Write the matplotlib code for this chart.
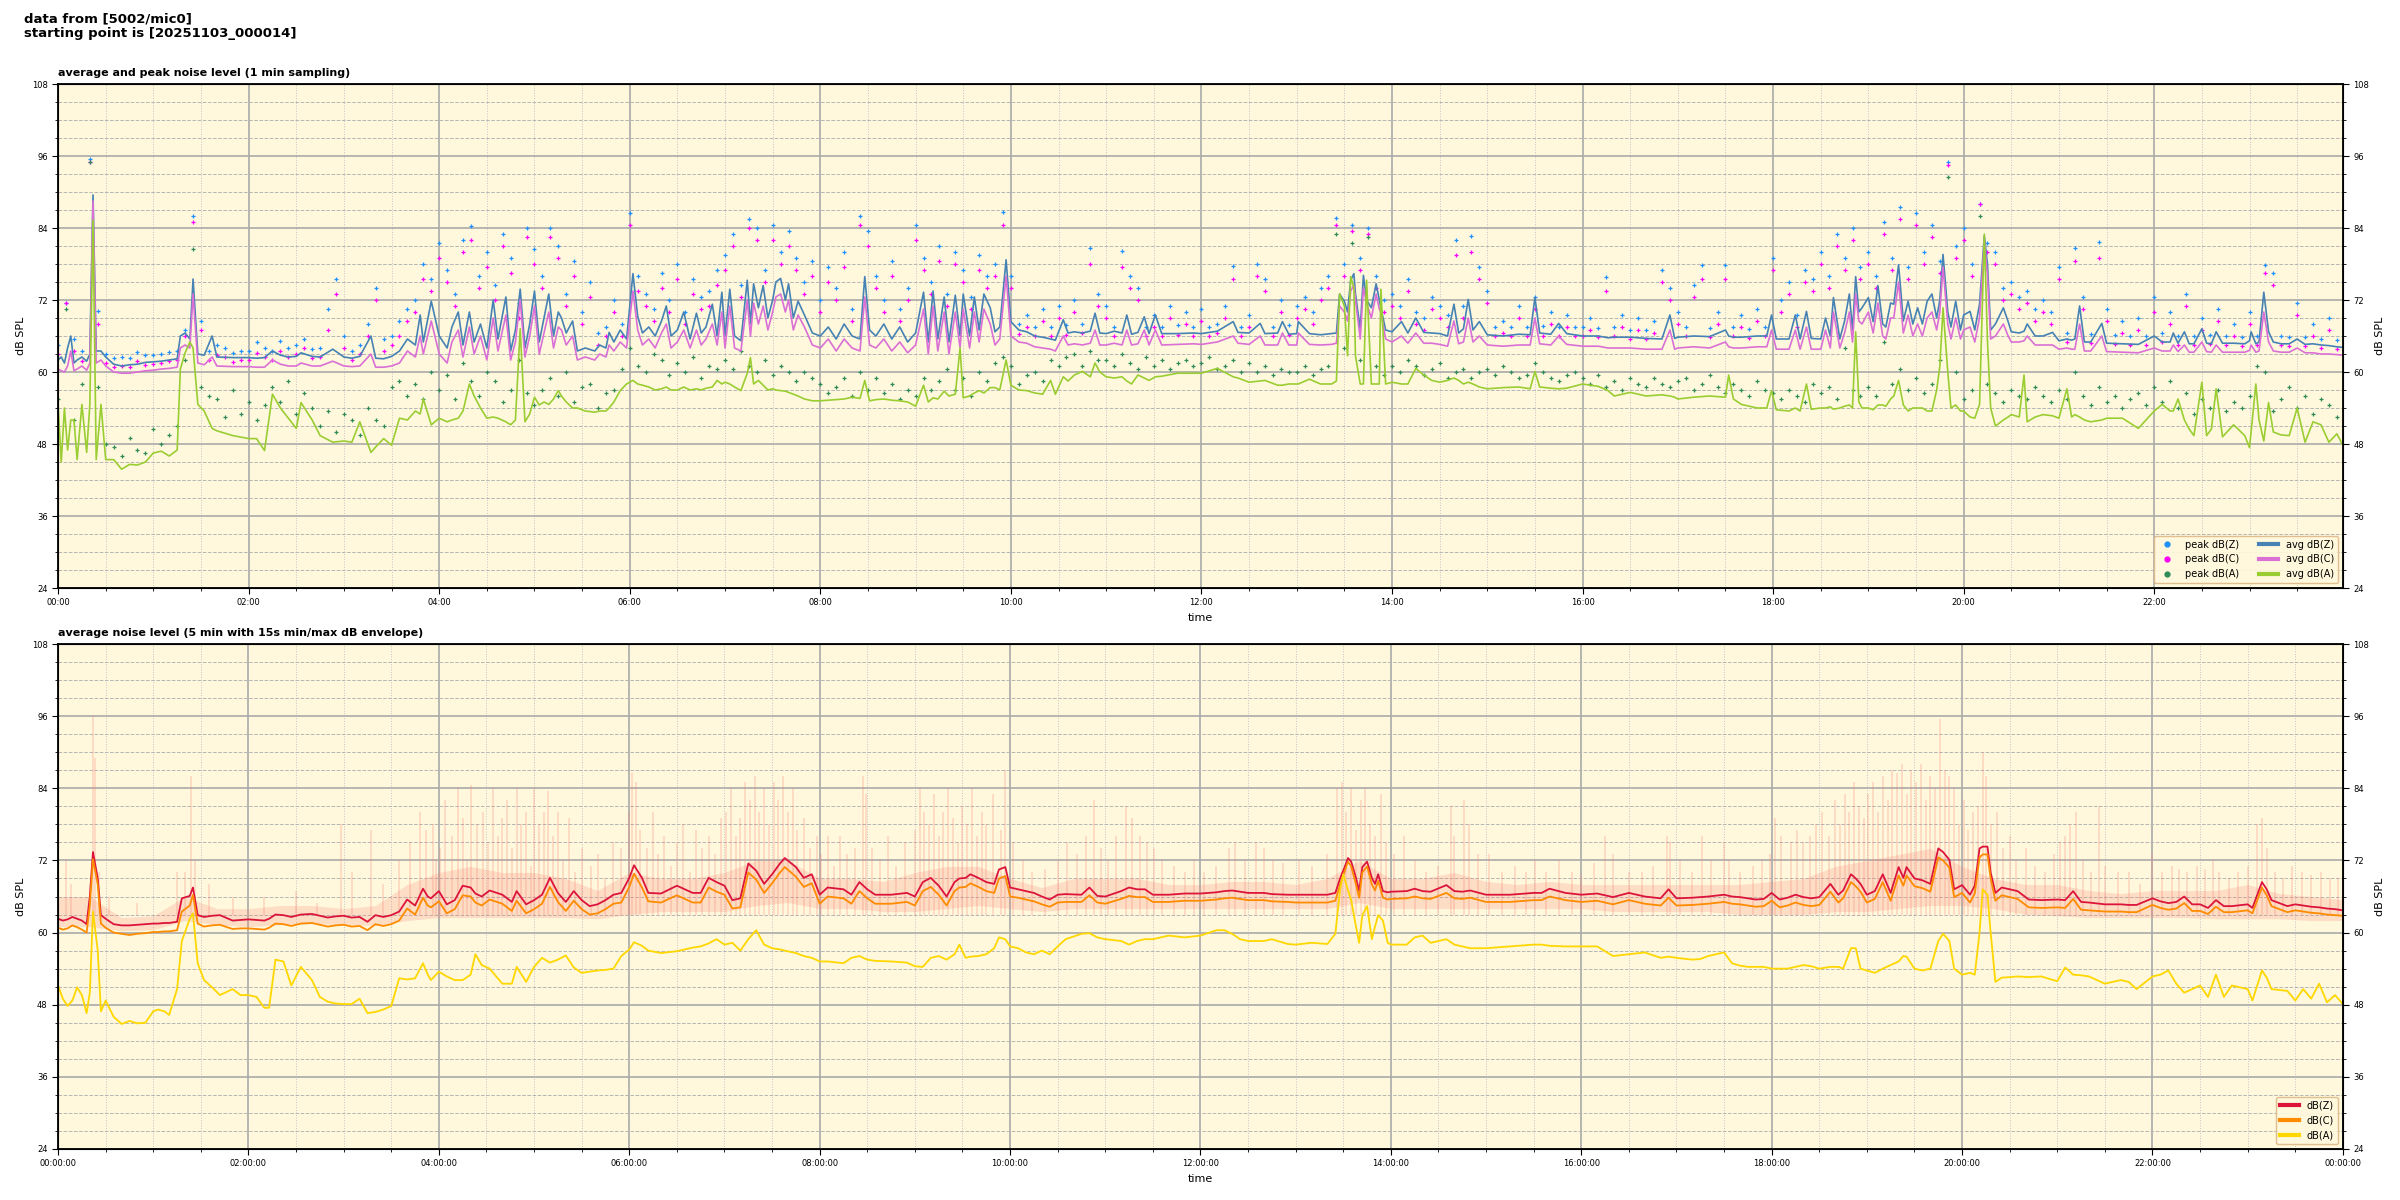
import numpy as np
import matplotlib
matplotlib.use("Agg")
import matplotlib.pyplot as plt
from matplotlib.ticker import MultipleLocator, FuncFormatter
from matplotlib.lines import Line2D

# ---------------- top panel: 1 min averages
# times are minutes after 00:00, one line per hour
avg_t = [
    0, 2, 4, 6, 8, 10, 12, 15, 18, 20, 22, 24, 27, 30, 35, 40, 45, 50, 55,
    60, 65, 70, 75, 77, 80, 83, 85, 88, 92, 97, 100, 110,
    120, 125, 130, 135, 140, 145, 150, 153, 160, 165, 173,
    180, 185, 190, 197, 200, 205, 210, 215, 220, 225, 228, 230, 235,
    240, 245, 248, 252, 255, 259, 262, 266, 270, 274, 277, 282, 285, 288, 291, 294, 297,
    300, 303, 306, 309, 312, 315, 317, 320, 324, 327, 332, 338, 341, 345, 347, 350, 354, 358,
    362, 365, 368, 372, 376, 380, 383, 386, 390, 394, 398, 402, 405, 408, 412, 415, 418,
    420, 423, 426, 430, 434, 436, 438, 441, 444, 447, 450, 452, 455, 458, 460, 463, 466, 470, 475,
    480, 485, 490, 495, 500, 505, 508, 511, 515, 520, 525, 530, 535,
    540, 545, 548, 551, 554, 558, 561, 565, 568, 570, 574, 577, 580, 583, 587, 590, 593, 597,
    600, 605, 610, 615, 620, 625, 628, 633, 636, 640, 645, 650, 653, 656,
    660, 665, 670, 673, 676, 680, 684, 687, 691, 695, 705, 715,
    720, 730, 740, 743, 750, 757, 760, 768, 771, 775,
    780, 781, 788, 795, 802, 805, 807, 810, 812, 814, 816, 817, 820, 822, 824, 827, 830, 832, 833, 836,
    840, 846, 850, 855, 860, 865, 870, 875, 879, 882, 885, 888, 891, 895,
    900, 910, 920, 927, 930, 933, 940, 945, 950,
    960, 970, 976, 980, 990, 1000, 1010, 1015, 1018,
    1020, 1030, 1040, 1050, 1052, 1055, 1060, 1070, 1076, 1079,
    1082, 1090, 1094, 1097, 1101, 1104, 1110, 1113, 1116, 1118, 1122, 1125, 1128, 1130, 1132, 1134, 1136,
    1140, 1143, 1146, 1149, 1151, 1154, 1156, 1159, 1162, 1165, 1168, 1171, 1174, 1177, 1180, 1183, 1185, 1187, 1190, 1192, 1195, 1198,
    1200, 1204, 1207, 1210, 1213, 1215, 1217, 1220, 1225, 1228, 1230, 1235, 1238, 1240, 1245, 1250, 1256,
    1260, 1265, 1268, 1270, 1273, 1276, 1280, 1287, 1290, 1300, 1310,
    1320, 1325, 1330, 1332, 1335, 1339, 1342, 1345, 1350, 1353, 1356, 1359, 1363, 1370, 1377,
    1380, 1381, 1384, 1386, 1389, 1392, 1395, 1400, 1405, 1410, 1415, 1420, 1425, 1430, 1435, 1439,
]
avg_z = [
    62.0, 62.5, 61.5, 64.0, 66.0, 61.5, 62.0, 62.5, 61.8, 63.0, 89.5, 63.5, 63.5, 62.5, 61.3, 61.0, 61.2, 61.3, 61.6,
    61.7, 61.8, 62.0, 62.2, 66.0, 66.5, 65.5, 75.5, 63.0, 62.8, 66.0, 62.5, 62.4,
    62.4, 62.3, 62.4, 63.5, 62.8, 62.5, 62.6, 63.2, 62.6, 62.5, 63.8,
    62.5, 62.3, 62.6, 66.0, 62.3, 62.2, 62.6, 63.5, 65.5, 64.5, 69.5, 65.0, 71.8,
    66.0, 64.0, 67.5, 70.0, 64.5, 70.0, 65.0, 68.0, 64.0, 72.0, 65.5, 72.5, 63.5, 67.0, 73.8, 64.0, 68.0,
    73.5, 65.0, 69.0, 73.0, 66.0, 70.0, 69.0, 66.5, 68.5, 63.5, 64.0, 63.5, 64.5, 64.0, 66.6, 65.0, 67.0, 65.5,
    76.4, 69.3, 66.5, 67.5, 66.0, 68.5, 71.0, 66.0, 67.0, 70.0, 65.5, 69.8, 66.5, 67.5, 71.3, 66.0, 73.3,
    66.0, 73.8, 66.0, 65.2, 75.3, 68.0, 74.7, 70.7, 74.4, 69.0, 72.0, 75.0, 75.6, 72.0, 74.7, 69.0, 71.8, 69.5, 66.5,
    66.0, 67.5, 65.5, 68.0, 66.0, 65.5, 75.9, 67.0, 66.0, 68.0, 65.5, 67.5, 65.0,
    66.5, 73.3, 65.0, 73.5, 65.5, 72.5, 65.0, 72.8, 66.0, 73.0, 66.0, 72.5, 67.0, 73.0, 70.7, 66.7, 67.5, 78.7,
    68.4, 67.0, 66.7, 66.0, 65.8, 65.5, 65.3, 68.7, 66.5, 66.7, 66.5, 66.8, 69.8, 66.5,
    66.4, 66.8, 66.5, 69.5, 66.3, 66.6, 69.2, 66.4, 69.5, 66.4, 66.4, 66.5,
    66.4, 66.8, 68.4, 66.6, 66.5, 68.1, 66.4, 66.5, 68.4, 66.3,
    66.4, 68.4, 66.4, 66.2, 66.4, 66.5, 73.0, 71.8, 70.0, 75.3, 76.4, 73.0, 67.2, 76.1, 72.0, 70.7, 74.7, 72.0, 70.7, 67.0,
    66.7, 68.4, 66.5, 69.0, 66.6, 66.5, 66.4, 66.0, 71.3, 66.5, 67.2, 72.1, 67.0, 68.4,
    66.2, 66.0, 66.3, 66.2, 72.4, 66.5, 66.3, 68.1, 66.4,
    66.0, 66.0, 65.7, 65.8, 65.8, 65.6, 65.5, 69.5, 65.6,
    65.8, 66.0, 65.9, 67.0, 66.0, 65.8, 65.8, 66.0, 66.0, 69.5,
    65.5, 65.5, 69.5, 65.5, 70.1, 65.6, 65.5, 69.0, 66.0, 72.4, 65.5, 68.5, 73.0, 67.0, 75.9, 70.0, 70.7,
    72.4, 68.4, 74.4, 68.0, 67.5, 71.5, 71.3, 77.9, 68.5, 71.8, 68.0, 70.7, 68.0, 71.8, 73.0, 69.0, 72.0, 79.6, 70.0, 67.5, 71.8, 67.0,
    69.5, 70.1, 67.0, 71.3, 82.7, 78.0, 67.0, 68.0, 70.7, 68.4, 66.7, 66.5, 66.8, 68.0, 66.0, 66.0, 66.6,
    65.2, 65.5, 65.3, 65.5, 71.0, 65.0, 65.0, 68.1, 64.8, 64.7, 64.6,
    66.0, 65.0, 65.0, 66.5, 64.8, 66.7, 64.7, 64.7, 67.2, 64.8, 64.7, 66.7, 64.8, 64.8, 64.7,
    65.2, 66.7, 64.7, 65.0, 73.3, 66.7, 65.0, 64.7, 64.7, 65.5, 64.6, 64.7, 64.5, 64.4, 64.2, 64.1,
]
avg_c = [
    60.5, 60.2, 60.0, 61.0, 63.5, 60.2, 60.5, 61.0, 60.3, 61.5, 88.5, 61.5, 62.0, 61.0, 60.0, 59.8, 59.8, 60.0, 60.2,
    60.3, 60.5, 60.6, 60.8, 64.0, 64.5, 64.0, 73.0, 61.5, 61.2, 62.5, 61.0, 60.9,
    60.9, 60.8, 60.8, 62.0, 61.3, 61.0, 61.0, 61.5, 61.0, 61.0, 61.8,
    61.0, 60.9, 61.0, 63.0, 60.8, 60.8, 61.0, 61.5, 63.5, 62.5, 66.0, 63.0, 68.5,
    63.0, 61.5, 65.0, 67.0, 62.5, 67.5, 63.0, 66.0, 62.0, 69.0, 63.5, 69.5, 62.0, 65.0, 72.0, 62.5, 66.0,
    71.0, 63.0, 66.5, 70.0, 64.0, 67.5, 67.0, 64.5, 66.0, 62.0, 62.5, 62.0, 63.0, 62.5, 64.5, 63.5, 65.0, 64.0,
    73.5, 67.0, 64.5, 65.5, 64.0, 66.5, 68.0, 64.0, 65.0, 67.0, 64.0, 67.0, 64.5, 65.5, 68.0, 64.5, 70.0,
    64.0, 71.0, 64.0, 63.5, 72.0, 66.0, 71.5, 68.0, 71.0, 67.0, 70.0, 72.5, 73.0, 70.0, 72.0, 67.0, 69.5, 67.5, 64.5,
    64.0, 65.5, 63.5, 65.5, 64.0, 63.5, 72.5, 64.5, 64.0, 65.5, 63.5, 65.0, 63.2,
    64.5, 70.5, 63.0, 71.0, 63.5, 70.0, 63.0, 70.0, 64.0, 70.5, 64.0, 70.0, 65.0, 70.5, 68.0, 64.5, 65.5, 76.0,
    66.0, 65.0, 64.8, 64.2, 64.0, 63.8, 63.5, 66.0, 64.5, 64.7, 64.5, 64.8, 67.0, 64.5,
    64.5, 64.8, 64.5, 67.0, 64.5, 64.7, 67.0, 64.5, 67.0, 64.5, 64.6, 64.7,
    64.6, 65.0, 66.0, 64.8, 64.6, 66.0, 64.5, 64.5, 66.5, 64.5,
    64.5, 66.5, 64.6, 64.5, 64.6, 64.8, 71.0, 70.0, 68.5, 73.5, 74.5, 72.0, 65.5, 74.0, 71.5, 69.0, 73.0, 70.5, 70.0, 65.5,
    65.0, 66.0, 64.8, 66.5, 64.8, 64.8, 64.6, 64.3, 68.5, 64.7, 65.0, 69.0, 65.0, 66.0,
    64.5, 64.3, 64.5, 64.5, 69.0, 64.7, 64.5, 66.0, 64.6,
    64.3, 64.3, 64.0, 64.0, 64.0, 63.8, 63.8, 67.0, 63.8,
    64.0, 64.2, 64.0, 65.0, 64.2, 64.0, 64.0, 64.2, 64.2, 67.0,
    63.8, 63.8, 67.0, 63.8, 67.5, 63.8, 63.8, 67.0, 64.0, 70.0, 64.0, 66.5, 70.0, 65.0, 73.0, 68.5, 68.0,
    70.0, 66.5, 71.5, 66.0, 65.5, 69.0, 69.0, 75.0, 66.5, 69.5, 66.0, 68.0, 66.0, 69.0, 70.0, 67.0, 70.0, 77.5, 68.0, 65.5, 69.0, 65.5,
    67.0, 67.5, 65.0, 69.0, 82.0, 76.0, 65.5, 66.0, 68.0, 66.0, 65.0, 65.0, 65.2, 66.0, 64.5, 64.5, 64.5,
    63.8, 64.0, 63.8, 63.8, 68.0, 63.5, 63.5, 66.0, 63.4, 63.3, 63.2,
    64.0, 63.5, 63.5, 64.5, 63.4, 64.5, 63.3, 63.3, 65.0, 63.4, 63.3, 64.5, 63.3, 63.3, 63.3,
    63.6, 64.5, 63.3, 63.5, 70.0, 65.0, 63.5, 63.3, 63.3, 64.0, 63.2, 63.2, 63.0, 63.0, 62.9, 62.8,
]
avg_a = [
    54.6, 45.0, 54.0, 47.0, 52.0, 52.0, 45.4, 54.6, 46.6, 54.6, 85.3, 45.4, 54.6, 45.4, 45.4, 43.8, 44.6, 44.5, 45.0,
    46.5, 46.8, 46.0, 47.0, 60.5, 63.2, 65.0, 64.0, 54.6, 53.5, 50.6, 50.2, 49.4,
    48.9, 48.9, 46.9, 56.3, 54.0, 52.3, 50.6, 54.9, 52.0, 49.4, 48.3,
    48.5, 48.3, 51.7, 46.6, 47.5, 48.9, 47.8, 52.3, 52.0, 53.5, 53.0, 55.5, 51.2,
    52.3, 51.7, 52.0, 52.3, 53.5, 58.0, 56.0, 54.0, 52.3, 52.5, 52.3, 51.7, 51.2, 52.0, 67.2, 51.7, 53.0,
    55.8, 54.5, 55.0, 54.6, 55.5, 56.9, 56.0, 55.0, 54.0, 54.0, 53.5, 53.3, 53.5, 53.5, 54.0, 55.0, 56.9, 58.0,
    58.6, 58.0, 57.8, 57.5, 57.0, 57.2, 57.5, 57.0, 57.0, 57.5, 57.0, 57.2, 57.0, 57.3, 57.5, 58.6, 58.0,
    58.3, 58.0, 57.5, 56.9, 59.8, 62.4, 58.0, 58.6, 57.8, 57.0, 57.2, 57.0, 56.9, 56.8, 56.6, 56.3, 56.0, 55.5, 55.2,
    55.2, 55.3, 55.4, 55.5, 55.8, 55.6, 58.6, 55.2, 55.4, 55.5, 55.3, 55.2, 55.0,
    54.3, 57.8, 55.0, 55.7, 55.5, 56.8, 56.0, 56.3, 64.0, 55.7, 56.0, 56.5, 56.9, 56.5, 57.4, 57.4, 57.0, 62.0,
    57.8, 57.0, 56.9, 56.5, 56.3, 58.6, 56.3, 59.2, 58.5, 59.5, 60.1, 59.2, 61.5, 60.0,
    59.2, 59.0, 59.2, 58.5, 58.0, 59.5, 59.0, 58.6, 59.2, 59.3, 59.8, 59.8,
    59.8, 60.6, 59.2, 59.0, 58.3, 58.5, 58.6, 57.8, 57.8, 58.0,
    58.0, 58.0, 58.8, 58.0, 58.0, 58.5, 73.0, 71.0, 62.7, 75.9, 74.0, 62.7, 58.0, 58.0, 75.3, 58.0, 58.0, 58.0, 73.8, 58.0,
    58.3, 58.0, 58.0, 60.6, 59.5, 58.6, 58.3, 58.6, 59.0, 58.6, 58.0, 58.3, 58.0, 57.5,
    57.2, 57.4, 57.5, 57.2, 60.1, 57.5, 57.3, 57.2, 57.3,
    58.0, 57.6, 56.9, 56.0, 56.6, 56.0, 56.2, 56.0, 55.8,
    55.5, 55.8, 56.0, 55.8, 59.5, 55.5, 54.6, 54.0, 54.0, 56.9,
    53.7, 53.5, 54.0, 53.5, 58.0, 53.8, 54.0, 54.0, 54.2, 53.8, 54.0, 54.3, 54.5, 54.0, 66.7, 55.0, 54.0,
    54.0, 53.7, 54.5, 54.5, 54.3, 55.5, 56.0, 58.6, 54.5, 53.5, 54.0, 54.0, 54.0, 53.5, 53.5, 57.0, 61.0, 70.7, 60.0, 54.0, 54.5, 53.5,
    53.5, 52.5, 52.3, 54.6, 83.0, 65.0, 54.0, 51.0, 52.0, 52.5, 52.9, 52.5, 59.5, 51.7, 52.5, 52.9, 52.7,
    52.3, 57.2, 52.5, 52.9, 52.5, 52.0, 51.7, 52.0, 52.3, 52.3, 50.6,
    53.5, 54.6, 53.5, 53.5, 55.5, 52.0, 50.5, 49.4, 58.3, 49.4, 50.5, 57.2, 49.2, 51.2, 49.4,
    47.4, 50.0, 58.0, 52.0, 48.5, 54.9, 50.0, 49.5, 49.4, 54.0, 48.3, 51.7, 51.2, 48.3, 49.7, 47.7,
]

# 1 min peaks, one reading every 5 minutes
peak_t = np.arange(0, 1440, 5)
peak_z = [
    64.5, 71.5, 65.5, 63.5, 95.5, 70.1, 63.0, 62.3, 62.5, 62.3, 63.3, 62.8,
    62.8, 63.0, 63.3, 63.5, 67.0, 86.0, 68.5, 63.5, 64.5, 64.0, 63.2, 63.5,
    63.5, 65.0, 64.0, 63.5, 65.2, 64.0, 64.5, 65.5, 63.8, 64.0, 70.5, 75.5,
    66.0, 63.5, 64.5, 68.0, 74.0, 65.5, 66.0, 68.5, 70.5, 72.0, 78.0, 75.5,
    81.5, 77.0, 73.0, 82.0, 84.3, 76.0, 80.0, 74.5, 83.0, 79.0, 71.5, 84.0,
    80.5, 76.0, 84.0, 81.0, 73.0, 78.5, 70.0, 75.0, 66.5, 67.5, 72.0, 68.0,
    86.5, 76.0, 73.0, 70.5, 76.5, 72.0, 78.0, 70.0, 75.5, 72.5, 73.5, 77.0,
    79.5, 83.0, 74.5, 85.5, 84.0, 77.0, 84.5, 80.0, 83.5, 79.0, 75.0, 78.5,
    72.0, 77.5, 74.0, 80.0, 70.5, 86.0, 83.5, 76.0, 72.0, 78.5, 70.5, 74.0,
    84.5, 79.0, 75.0, 81.0, 73.0, 80.0, 77.0, 72.5, 79.5, 76.0, 78.0, 86.6,
    76.0, 68.0, 69.5, 67.5, 70.5, 67.5, 71.0, 67.8, 72.0, 68.0, 80.7, 73.0,
    71.0, 67.5, 80.2, 76.0, 74.0, 67.5, 69.5, 67.5, 71.0, 67.8, 70.0, 67.5,
    70.5, 67.5, 68.0, 71.0, 77.6, 67.5, 69.5, 78.0, 75.5, 67.5, 72.0, 67.8,
    71.0, 72.5, 70.0, 74.0, 76.0, 85.6, 78.0, 84.5, 79.0, 84.0, 76.0, 72.0,
    73.0, 71.0, 75.5, 70.0, 69.0, 72.5, 71.0, 69.5, 82.0, 71.0, 82.6, 77.5,
    73.5, 67.5, 68.5, 67.5, 71.0, 67.5, 72.5, 67.6, 70.0, 67.5, 69.5, 67.5,
    67.5, 69.0, 67.3, 75.9, 67.5, 69.5, 67.0, 69.0, 67.0, 68.5, 77.0, 74.0,
    70.0, 67.5, 74.5, 77.9, 67.3, 70.0, 77.8, 67.5, 69.5, 67.2, 70.5, 67.5,
    79.0, 72.0, 75.0, 69.5, 77.0, 75.5, 80.0, 76.0, 83.0, 79.0, 84.0, 77.5,
    80.0, 76.0, 85.0, 79.0, 87.5, 77.5, 86.5, 80.0, 84.5, 78.5, 95.0, 81.0,
    84.0, 78.0, 88.0, 81.5, 80.0, 74.0, 75.0, 72.5, 73.5, 70.5, 72.0, 70.0,
    77.5, 66.5, 80.7, 72.5, 66.3, 81.6, 70.5, 66.2, 68.5, 66.0, 69.0, 66.0,
    72.5, 66.5, 70.0, 66.0, 73.0, 66.0, 69.0, 66.2, 70.5, 66.0, 68.0, 65.8,
    70.0, 66.0, 77.9, 76.5, 66.0, 65.8, 71.5, 65.8, 68.0, 65.5, 69.0, 65.3,
]
peak_c = [
    63.0, 71.5, 63.5, 61.8, 95.0, 68.0, 61.5, 60.8, 61.0, 60.8, 61.8, 61.2,
    61.3, 61.5, 61.8, 62.0, 66.0, 85.0, 67.0, 62.0, 62.8, 62.5, 61.7, 62.0,
    62.0, 63.2, 62.5, 62.0, 63.5, 62.5, 63.0, 64.0, 62.3, 62.5, 67.0, 73.0,
    64.0, 62.0, 63.0, 66.0, 72.0, 63.5, 64.5, 66.0, 68.5, 70.0, 75.5, 73.5,
    79.0, 75.0, 71.0, 80.0, 82.0, 74.0, 77.5, 72.0, 81.0, 76.5, 69.0, 82.5,
    78.0, 74.0, 82.5, 79.0, 71.0, 76.0, 68.0, 72.5, 64.5, 66.0, 70.0, 66.0,
    84.5, 73.5, 71.0, 68.5, 74.0, 70.0, 75.5, 68.0, 73.0, 70.5, 71.0, 74.5,
    77.0, 81.0, 72.5, 84.0, 82.0, 75.0, 82.0, 78.0, 81.0, 77.0, 73.0, 76.0,
    70.0, 75.0, 72.0, 77.5, 68.5, 84.5, 81.0, 74.0, 70.0, 76.0, 68.5, 72.0,
    82.0, 77.0, 73.0, 78.5, 71.0, 78.0, 75.0, 70.5, 77.0, 74.0, 76.0, 84.5,
    74.0, 66.3, 67.5, 66.0, 68.5, 66.0, 69.0, 66.2, 70.0, 66.5, 78.0, 71.0,
    69.0, 66.0, 77.5, 74.0, 72.0, 66.0, 67.5, 66.0, 69.0, 66.2, 68.0, 66.0,
    68.5, 66.0, 66.5, 69.0, 75.5, 66.0, 67.5, 76.0, 73.5, 66.0, 70.0, 66.2,
    69.0, 70.5, 68.0, 72.0, 74.0, 84.5, 76.0, 83.5, 77.0, 83.0, 74.0, 70.0,
    71.0, 69.0, 73.5, 68.0, 67.0, 70.5, 69.0, 67.5, 79.5, 69.0, 80.0, 75.5,
    71.5, 66.0, 66.5, 66.0, 69.0, 66.0, 70.5, 66.0, 68.0, 66.0, 67.5, 66.0,
    66.0, 67.0, 65.8, 73.5, 66.0, 67.5, 65.5, 67.0, 65.5, 66.5, 75.0, 72.0,
    68.0, 66.0, 72.5, 75.5, 65.8, 68.0, 75.5, 66.0, 67.5, 65.7, 68.5, 66.0,
    77.0, 70.0, 73.0, 67.5, 75.0, 73.5, 78.0, 74.0, 81.0, 77.0, 82.0, 75.5,
    78.0, 74.0, 83.0, 77.0, 85.5, 75.5, 84.5, 78.0, 82.5, 76.5, 94.5, 79.0,
    82.0, 76.0, 88.0, 80.0, 78.0, 72.0, 73.0, 70.5, 71.5, 68.5, 70.0, 68.0,
    75.5, 65.0, 78.5, 70.5, 64.8, 79.0, 68.5, 64.7, 66.5, 64.5, 67.0, 64.5,
    70.0, 65.0, 68.0, 64.5, 71.0, 64.5, 67.0, 64.7, 68.5, 64.5, 66.0, 64.3,
    68.0, 64.5, 76.5, 74.5, 64.5, 64.3, 69.5, 64.3, 66.0, 64.0, 67.0, 63.8,
]
peak_a = [
    55.5, 70.5, 52.0, 58.0, 95.0, 57.5, 48.0, 47.5, 46.0, 49.0, 47.0, 46.5,
    50.5, 48.0, 49.5, 51.0, 62.0, 80.5, 57.5, 56.0, 55.5, 52.5, 57.0, 53.0,
    55.0, 52.0, 54.5, 57.5, 55.0, 58.5, 53.0, 56.5, 54.0, 51.0, 53.5, 50.0,
    53.0, 52.0, 49.5, 54.0, 52.0, 51.0, 57.5, 58.5, 56.0, 58.0, 55.5, 60.0,
    57.0, 59.5, 55.5, 61.5, 58.5, 56.0, 60.0, 58.5, 55.0, 57.0, 62.0, 56.5,
    54.5, 57.0, 59.0, 56.0, 60.0, 55.0, 57.5, 58.0, 54.0, 56.5, 57.0, 60.5,
    64.0, 61.0, 60.0, 63.0, 62.0, 59.5, 61.5, 60.0, 62.5, 59.0, 61.0, 60.5,
    62.0, 60.5, 63.5, 61.0, 60.0, 62.0, 59.5, 61.0, 60.0, 58.5, 60.0, 59.0,
    58.0, 56.5, 57.5, 59.0, 56.0, 60.0, 57.0, 59.0, 56.5, 58.0, 55.5, 57.0,
    56.0, 59.0, 57.0, 58.5, 60.5, 57.0, 59.0, 56.0, 60.0, 58.5, 61.5, 62.5,
    61.0, 58.0, 59.5, 60.0, 58.5, 62.0, 61.0, 62.5, 63.0, 61.0, 63.5, 62.0,
    62.0, 61.0, 63.0, 61.5, 60.5, 62.5, 61.0, 62.0, 60.5, 61.5, 62.0, 61.0,
    61.5, 62.5, 60.5, 61.0, 62.0, 60.0, 61.5, 60.0, 61.0, 59.5, 60.5, 60.0,
    60.0, 61.0, 59.5, 60.5, 61.0, 83.0, 64.0, 81.5, 62.0, 82.5, 61.0, 59.5,
    61.0, 60.0, 62.0, 61.0, 59.5, 60.5, 61.5, 59.0, 60.0, 60.5, 59.0, 60.0,
    60.5, 59.5, 61.0, 60.0, 59.0, 59.5, 61.5, 60.0, 59.0, 58.5, 59.5, 60.0,
    59.0, 58.0, 59.5, 57.5, 58.5, 57.0, 59.0, 58.0, 57.5, 59.0, 58.0, 57.5,
    58.5, 59.0, 57.0, 58.0, 59.5, 57.5, 56.5, 58.0, 57.0, 56.0, 58.5, 57.0,
    56.5, 55.5, 57.0, 56.0, 55.0, 58.0, 56.5, 57.5, 55.5, 64.0, 57.0, 56.0,
    57.5, 56.0, 65.0, 58.0, 60.5, 57.0, 59.0, 56.5, 58.0, 62.0, 92.5, 60.0,
    55.5, 57.0, 86.0, 58.0, 56.5, 55.0, 57.0, 56.0, 55.5, 57.5, 56.0, 55.0,
    57.0, 55.5, 60.0, 56.0, 54.5, 57.5, 55.0, 56.0, 54.0, 55.5, 56.5, 54.5,
    57.5, 55.0, 58.5, 54.0, 56.5, 53.0, 55.5, 54.0, 57.0, 53.5, 55.0, 54.0,
    56.0, 61.0, 60.0, 53.5, 55.5, 57.5, 54.0, 56.0, 53.0, 55.5, 54.5, 52.5,
]

# ---------------- bottom panel: 5 min averages
lvl_t = [
    0, 3, 6, 9, 12, 15, 18, 20, 22, 25, 27, 30, 35, 40, 45, 50, 55,
    60, 63, 67, 70, 75, 78, 83, 85, 88, 92, 97, 102, 110, 115,
    120, 125, 130, 133, 137, 142, 147, 153, 160, 165, 170, 175,
    180, 185, 190, 195, 200, 205, 210, 215, 220, 225, 230, 233, 235,
    240, 245, 250, 255, 260, 263, 267, 272, 280, 286, 289, 295,
    300, 305, 310, 315, 320, 325, 330, 335, 340, 345, 350, 355,
    360, 363, 368, 372, 380, 390, 400, 405, 410, 415,
    420, 425, 430, 435, 440, 445, 450, 455, 458, 465, 470, 475,
    480, 485, 495, 500, 505, 510, 515, 525, 535,
    540, 545, 550, 555, 560, 565, 568, 572, 575, 580, 585, 590, 593, 597,
    600, 605, 610, 615, 620, 625, 630, 635, 645, 650, 655,
    660, 670, 675, 680, 685, 690, 700, 710,
    720, 730, 735, 740, 745, 750, 760, 765, 775,
    780, 790, 800, 805, 808, 810, 813, 815, 818, 820, 822, 825, 828, 830, 832, 835, 838,
    840, 850, 855, 860, 865, 875, 880, 885, 890,
    900, 915, 930, 935, 940, 950,
    960, 970, 980, 990, 1000, 1010, 1015,
    1020, 1030, 1035, 1040, 1050, 1055, 1060, 1065, 1070, 1075,
    1080, 1085, 1090, 1095, 1100, 1105, 1110, 1117, 1122, 1125, 1130, 1133, 1136,
    1140, 1145, 1150, 1155, 1160, 1163, 1165, 1170, 1175, 1180, 1185, 1188, 1192, 1195,
    1200, 1205, 1208, 1211, 1213, 1216, 1218, 1221, 1225, 1235, 1242, 1250,
    1260, 1265, 1270, 1275, 1280, 1290, 1300, 1305, 1310,
    1320, 1325, 1330, 1335, 1340, 1345, 1350, 1355, 1360, 1365, 1370,
    1380, 1383, 1389, 1392, 1395, 1405, 1410, 1415, 1420, 1425, 1430, 1435, 1440,
]
lvl_z = [
    62.3, 62.0, 62.2, 62.6, 62.3, 62.0, 61.4, 66.0, 73.4, 69.0, 62.9, 62.3, 61.4, 61.2, 61.2, 61.3, 61.4,
    61.5, 61.5, 61.6, 61.6, 61.8, 65.7, 66.1, 67.5, 62.9, 62.6, 62.8, 62.9, 62.0, 62.1,
    62.2, 62.1, 62.0, 62.3, 63.0, 62.9, 62.6, 63.0, 63.1, 62.8, 62.5, 62.7,
    62.8, 62.5, 62.6, 61.8, 62.9, 62.6, 62.9, 63.5, 65.5, 64.5, 67.3, 66.0, 65.7,
    66.9, 64.7, 65.4, 67.8, 67.5, 66.5, 66.0, 67.0, 66.3, 65.1, 66.9, 64.7,
    65.4, 66.3, 69.1, 66.6, 65.1, 66.9, 65.4, 64.4, 64.7, 65.4, 66.3, 66.6,
    69.1, 71.2, 69.1, 66.6, 66.5, 67.8, 66.6, 66.6, 69.1, 68.4,
    67.8, 65.4, 65.7, 71.5, 70.3, 68.1, 69.7, 71.5, 72.4, 70.9, 69.1, 69.7,
    66.3, 67.5, 67.2, 66.3, 68.4, 67.2, 66.3, 66.3, 66.6,
    66.0, 68.4, 69.1, 67.8, 66.0, 68.4, 69.0, 69.1, 69.7, 69.1, 68.4, 68.1, 70.5, 70.9,
    67.5, 67.2, 66.9, 66.6, 66.0, 65.5, 66.3, 66.4, 66.3, 67.5, 66.1,
    66.0, 66.9, 67.5, 67.2, 67.2, 66.3, 66.3, 66.5,
    66.5, 66.7, 66.9, 67.0, 66.8, 66.6, 66.6, 66.4, 66.3,
    66.3, 66.3, 66.3, 66.6, 69.0, 70.3, 72.4, 71.8, 69.1, 66.9, 70.9, 71.8, 69.1, 68.1, 69.7, 66.9, 66.7,
    66.8, 66.9, 67.3, 66.9, 66.8, 67.9, 66.9, 66.8, 67.0,
    66.3, 66.3, 66.6, 66.6, 67.3, 66.6,
    66.3, 66.5, 65.9, 66.6, 66.0, 65.7, 67.2,
    65.7, 65.8, 65.9, 66.0, 66.3, 66.0, 65.9, 65.7, 65.5, 65.6,
    66.6, 65.5, 65.8, 66.3, 65.9, 65.7, 65.9, 68.1, 66.3, 67.0, 69.7, 69.0, 68.1,
    66.3, 66.9, 69.7, 66.6, 70.9, 69.1, 70.9, 69.0, 68.7, 68.1, 74.0, 73.4, 72.1, 67.2,
    67.9, 66.3, 67.8, 74.0, 74.3, 74.3, 70.0, 66.6, 67.5, 66.9, 65.5, 65.4,
    65.5, 65.4, 66.9, 65.1, 65.0, 64.7, 64.7, 64.6, 64.6,
    65.7, 65.2, 64.9, 65.1, 66.0, 64.7, 64.7, 64.1, 65.4, 64.4, 64.4,
    64.7, 64.1, 68.4, 67.2, 65.4, 64.4, 64.7, 64.5, 64.3, 64.2, 64.0, 63.9, 63.7,
]
lvl_c = [
    60.8, 60.5, 60.7, 61.2, 60.9, 60.5, 60.0, 64.5, 72.2, 68.0, 61.5, 60.8, 60.0, 59.8, 59.6, 59.8, 59.9,
    60.1, 60.1, 60.2, 60.2, 60.4, 63.5, 64.5, 66.3, 61.5, 61.0, 61.2, 61.3, 60.6, 60.7,
    60.7, 60.6, 60.5, 60.8, 61.5, 61.4, 61.1, 61.5, 61.6, 61.3, 61.0, 61.2,
    61.3, 61.0, 61.1, 60.4, 61.4, 61.1, 61.4, 62.0, 64.0, 63.0, 65.8, 64.5, 64.2,
    65.2, 63.2, 63.9, 66.2, 66.0, 65.0, 64.5, 65.5, 64.8, 63.6, 65.3, 63.2,
    63.9, 64.8, 67.6, 65.1, 63.6, 65.3, 63.9, 63.0, 63.2, 63.9, 64.8, 65.0,
    67.6, 69.8, 67.5, 65.2, 65.0, 66.2, 65.0, 65.0, 67.5, 66.8,
    66.3, 64.0, 64.2, 70.0, 68.8, 66.6, 68.2, 70.0, 70.9, 69.3, 67.6, 68.2,
    64.8, 66.0, 65.7, 64.8, 66.9, 65.7, 64.8, 64.8, 65.1,
    64.5, 66.9, 67.6, 66.3, 64.5, 66.9, 67.5, 67.6, 68.2, 67.6, 66.9, 66.6, 69.0, 69.4,
    66.0, 65.8, 65.5, 65.2, 64.7, 64.3, 65.0, 65.1, 65.1, 66.2, 65.0,
    64.8, 65.6, 66.1, 65.9, 65.9, 65.1, 65.1, 65.3,
    65.3, 65.5, 65.7, 65.8, 65.6, 65.4, 65.4, 65.2, 65.1,
    65.0, 65.0, 65.0, 65.3, 68.0, 69.5, 71.8, 71.0, 68.0, 65.8, 70.0, 71.0, 68.0, 67.0, 68.6, 65.8, 65.5,
    65.6, 65.7, 66.0, 65.7, 65.6, 66.6, 65.7, 65.6, 65.8,
    65.1, 65.1, 65.4, 65.4, 66.0, 65.4,
    65.1, 65.3, 64.7, 65.4, 64.8, 64.5, 65.8,
    64.5, 64.6, 64.7, 64.8, 65.1, 64.8, 64.7, 64.5, 64.3, 64.4,
    65.3, 64.2, 64.5, 65.0, 64.6, 64.4, 64.6, 66.8, 65.0, 65.7, 68.4, 67.7, 66.8,
    65.0, 65.6, 68.4, 65.3, 69.5, 67.8, 69.5, 67.7, 67.4, 66.8, 72.5, 72.0, 70.8, 65.9,
    66.6, 65.0, 66.5, 72.5, 73.0, 73.0, 69.0, 65.3, 66.2, 65.6, 64.2, 64.1,
    64.2, 64.1, 65.6, 63.8, 63.7, 63.5, 63.5, 63.4, 63.4,
    64.6, 64.1, 63.8, 64.0, 64.9, 63.6, 63.6, 63.1, 64.3, 63.4, 63.4,
    63.7, 63.2, 67.5, 66.2, 64.4, 63.4, 63.7, 63.5, 63.3, 63.2, 63.0, 62.9, 62.8,
]
lvl_a = [
    51.2, 49.0, 47.8, 48.7, 50.9, 49.6, 46.6, 50.0, 63.5, 57.0, 46.9, 48.7, 46.0, 44.8, 45.3, 44.9, 45.0,
    46.9, 47.2, 46.9, 46.3, 50.6, 58.6, 62.3, 63.2, 54.9, 52.1, 50.9, 49.6, 50.6, 49.6,
    49.6, 49.3, 47.5, 47.5, 55.5, 55.2, 51.2, 54.3, 52.1, 49.3, 48.5, 48.2,
    48.1, 48.1, 49.0, 46.6, 46.8, 47.2, 47.8, 52.4, 52.2, 52.4, 54.9, 53.0, 52.1,
    53.5, 52.7, 52.1, 52.1, 53.0, 56.4, 54.6, 54.0, 51.5, 51.5, 54.3, 51.8,
    54.3, 55.8, 55.0, 55.5, 56.2, 54.2, 53.3, 53.5, 53.7, 53.8, 54.0, 56.1,
    57.2, 58.4, 57.8, 57.0, 56.6, 56.9, 57.5, 57.7, 58.2, 58.9,
    58.0, 58.3, 57.0, 58.9, 60.4, 58.0, 57.4, 57.2, 57.0, 56.6, 56.1, 55.8,
    55.2, 55.2, 54.9, 55.8, 56.1, 55.5, 55.3, 55.2, 55.0,
    54.4, 54.3, 55.8, 56.1, 55.5, 56.4, 58.0, 55.8, 56.0, 56.1, 56.4, 57.4, 59.2, 58.9,
    57.7, 57.4, 56.7, 56.4, 57.0, 56.4, 57.7, 58.9, 59.8, 59.9, 59.2,
    58.9, 58.6, 58.0, 58.6, 58.9, 58.9, 59.5, 59.2,
    59.5, 60.4, 60.4, 59.8, 58.9, 58.6, 58.6, 58.9, 58.1,
    58.0, 58.3, 58.1, 59.8, 67.2, 69.7, 67.0, 65.4, 61.0, 58.3, 62.9, 64.4, 58.9, 61.0, 62.9, 62.0, 58.3,
    58.0, 58.0, 59.2, 59.5, 58.3, 58.9, 58.0, 57.7, 57.4,
    57.4, 57.7, 58.0, 58.0, 57.8, 57.7,
    57.7, 57.7, 56.1, 56.4, 56.7, 55.8, 56.0,
    55.8, 55.5, 55.6, 56.1, 56.7, 54.9, 54.5, 54.3, 54.3, 54.3,
    54.0, 54.0, 54.0, 54.3, 54.6, 54.4, 54.0, 54.3, 54.3, 54.0, 57.4, 57.4, 54.0,
    53.7, 53.3, 54.0, 54.6, 55.2, 56.1, 56.0, 54.0, 53.7, 54.0, 58.6, 59.8, 58.6, 54.0,
    53.0, 53.3, 53.0, 60.0, 67.2, 66.3, 60.0, 51.8, 52.5, 52.7, 52.6, 52.7,
    51.9, 54.2, 53.0, 52.9, 52.7, 51.5, 52.1, 51.8, 50.6,
    52.7, 53.0, 53.7, 51.5, 50.0, 50.6, 51.2, 49.3, 53.0, 49.3, 51.2,
    50.6, 48.7, 53.7, 52.5, 50.6, 50.3, 48.7, 50.6, 49.0, 51.5, 48.4, 49.6, 48.1,
]

# 15 s min/max envelope: dense band every 20 min plus the tallest spikes
env_t = np.arange(0, 1441, 20)
env_lo = [
    61.0, 61.0, 60.3, 60.5, 62.0, 61.3, 61.0, 61.3, 61.5, 61.3, 61.2, 62.0,
    62.5, 62.5, 62.5, 62.5, 62.5, 62.3, 63.0, 63.5, 63.5, 63.5, 64.5, 65.0,
    64.0, 64.0, 63.5, 63.5, 64.0, 64.5, 64.0, 63.5, 64.0, 64.0, 64.0, 64.0,
    64.0, 64.0, 64.0, 64.0, 64.0, 65.0, 64.0, 64.0, 64.0, 64.0, 64.0, 64.0,
    64.0, 63.5, 63.5, 63.5, 63.5, 63.0, 63.0, 63.0, 63.5, 63.5, 64.0, 64.5,
    64.5, 64.0, 63.0, 62.8, 62.5, 62.5, 62.5, 62.5, 62.3, 62.3, 62.3, 62.0,
    62.0,
]
env_hi = [
    66.0, 66.0, 62.5, 62.8, 66.0, 64.0, 64.0, 64.5, 64.5, 64.0, 64.5, 68.0,
    70.0, 71.0, 70.0, 70.0, 69.0, 67.0, 70.0, 69.0, 69.0, 70.0, 72.0, 72.0,
    69.0, 69.0, 68.5, 70.0, 71.0, 71.0, 69.0, 67.5, 69.0, 69.0, 69.0, 68.0,
    68.0, 68.5, 68.5, 68.0, 69.0, 72.0, 69.0, 69.0, 70.0, 68.5, 68.0, 68.5,
    68.0, 68.0, 68.0, 68.0, 68.0, 68.0, 68.5, 69.0, 71.0, 72.0, 73.0, 74.0,
    71.0, 69.0, 68.0, 68.0, 67.0, 66.5, 67.0, 67.0, 67.0, 68.0, 66.5, 66.0,
    65.5,
]
spike_t = [
    5, 8, 22, 23, 26, 32, 50,
    75, 80, 84, 86, 95, 110,
    130, 150, 163, 178,
    185, 197, 205, 215, 222, 228, 232, 236, 238,
    241, 244, 248, 252, 255, 258, 260, 264, 268, 271, 274, 277, 280, 283, 286, 289, 292, 295, 298,
    300, 303, 306, 309, 312, 315, 318, 322, 326, 330, 336, 340, 345, 350, 355,
    360, 362, 364, 367, 371, 375, 378, 382, 386, 390, 394, 398, 402, 406, 410, 414, 418,
    421, 424, 427, 430, 433, 436, 439, 442, 445, 448, 451, 454, 457, 460, 463, 466, 470, 474, 478,
    481, 485, 489, 493, 497, 502, 507, 509, 513, 518, 523, 528, 534,
    540, 543, 546, 549, 552, 555, 558, 561, 564, 567, 570, 573, 576, 579, 582, 585, 589, 594, 597,
    602, 608, 614, 622, 630, 636, 642, 648, 653, 657,
    662, 667, 673, 677, 682, 686, 691, 696, 703, 710, 716,
    722, 730, 738, 742, 748, 755, 760, 766, 772,
    782, 790, 800, 806, 809, 812, 815, 818, 821, 824, 827, 830, 834, 837,
    842, 848, 855, 862, 870, 878, 880, 886, 889, 895,
    902, 910, 918, 925, 931, 938, 946, 954,
    960, 968, 975, 980, 990, 998, 1005, 1014, 1016,
    1022, 1030, 1036, 1042, 1050, 1053, 1060, 1068, 1074, 1079,
    1082, 1086, 1092, 1096, 1100, 1104, 1108, 1112, 1116, 1120, 1123, 1126, 1129, 1132, 1135, 1138,
    1141, 1144, 1147, 1150, 1153, 1156, 1159, 1162, 1165, 1168, 1171, 1174, 1177, 1180, 1183, 1186, 1189, 1192, 1195, 1198,
    1201, 1204, 1207, 1210, 1213, 1215, 1218, 1222, 1226, 1230, 1234, 1240, 1246, 1252,
    1258, 1262, 1265, 1268, 1272, 1276, 1281, 1286, 1290, 1298, 1305, 1312,
    1320, 1326, 1332, 1337, 1342, 1348, 1353, 1358, 1362, 1368, 1374,
    1380, 1386, 1389, 1392, 1397, 1402, 1408, 1414, 1420, 1426, 1432, 1437,
]
spike_v = [
    72, 68, 96, 89, 70, 66, 65,
    70, 70, 86, 72, 68, 66,
    66, 67, 65, 78,
    70, 77, 68, 72, 75, 80, 77, 78, 72,
    74, 82, 76, 84, 79, 72, 84.5, 78, 80, 75, 84, 76, 79, 82, 74, 84, 78, 80, 71,
    84, 78, 80, 83.5, 76, 80, 72, 79, 70, 74, 71, 73, 69, 75, 74,
    80, 86.5, 85, 77, 74, 80, 73, 76, 71, 75, 78, 70, 77, 74, 76, 73, 79,
    80, 84, 76, 79, 85, 82, 86, 80, 84, 78, 85, 82, 86, 80, 84, 77, 79, 74, 76,
    73, 76, 71, 76, 73, 74, 86, 83, 74, 72, 76, 71, 75,
    77, 84, 80, 78, 83, 76, 80, 84, 79, 75, 81, 78, 84, 76, 80, 78, 83, 77, 87,
    75, 72, 70, 70.5, 72, 75, 73, 76, 82, 74,
    72, 76, 81, 79, 76, 75, 74, 72, 71, 70, 72,
    70, 71, 74, 75, 72, 75, 74, 72, 71.5,
    72, 71, 73, 84, 85, 80, 84, 77, 82, 84, 78, 76, 83, 75,
    73, 76, 72, 70, 71, 81, 76, 82, 78, 73,
    73, 70, 71, 70, 72, 70, 72, 70,
    69.5, 71.5, 76, 73, 70, 70, 71, 76, 75,
    72, 70, 76, 72, 75, 72, 70, 71, 72, 73,
    79, 76, 75, 77, 75, 76, 78, 80, 76, 82, 78, 83, 80, 85, 81, 79,
    83, 85, 80, 86, 82, 87, 86.5, 88, 83, 87, 85, 88, 82, 86, 84, 95.5, 87, 86, 84, 78,
    82, 77, 80, 81, 90, 86, 78, 80, 74, 76, 72, 74, 71, 70,
    73, 75, 76, 78, 80, 72, 70, 81, 71, 70, 70, 68,
    73, 70, 71, 70.5, 70, 71, 70.5, 72, 70, 69, 70,
    71, 78, 79, 74, 70, 69, 71, 70, 69.5, 70, 69, 69,
]

BG = '#fff8dc'


def hours(minutes):
    return np.asarray(minutes) / 60.0


def style_axes(ax, suffix):
    ax.set_facecolor(BG)
    ax.set_ylim(24, 108)
    ax.yaxis.set_major_locator(MultipleLocator(12))
    ax.yaxis.set_minor_locator(MultipleLocator(3))
    ax.xaxis.set_major_locator(MultipleLocator(2))
    ax.xaxis.set_minor_locator(MultipleLocator(0.5))
    ax.xaxis.set_major_formatter(FuncFormatter(lambda x, p: f"{int(round(x)) % 24:02d}{suffix}"))
    ax.grid(which='major', color='#a9a9a9', lw=1.2)
    ax.grid(which='minor', axis='y', color='#b5b5b5', lw=0.7, ls='--')
    ax.grid(which='minor', axis='x', color='#c4c4c4', lw=0.7, ls=':')
    ax.set_axisbelow(True)
    ax.tick_params(which='both', labelsize=6)
    ax.tick_params(which='major', length=4)
    ax.tick_params(which='minor', length=2.5)
    for s in ax.spines.values():
        s.set_linewidth(1.3)
    ax.set_xlabel('time', fontsize=8)
    ax.set_ylabel('dB SPL', fontsize=8)

    # same scale repeated on the right
    tw = ax.twinx()
    tw.set_ylim(24, 108)
    tw.yaxis.set_major_locator(MultipleLocator(12))
    tw.yaxis.set_minor_locator(MultipleLocator(3))
    tw.tick_params(which='both', labelsize=6)
    tw.tick_params(which='major', length=4)
    tw.tick_params(which='minor', length=2.5)
    tw.set_ylabel('dB SPL', fontsize=8)
    return tw


fig = plt.figure(figsize=(24, 12), dpi=100)
fig.text(0.01, 0.99, "data from [5002/mic0]\nstarting point is [20251103_000014]",
         ha='left', va='top', fontsize=9.5, fontweight='bold')

# ---- top: average and peak, 1 min
ax1 = fig.add_axes([0.0242, 0.51, 0.952, 0.42])
ax1.set_title('average and peak noise level (1 min sampling)', loc='left', fontsize=8, fontweight='bold')

peak_colors = ['#1e90ff', '#ff00ff', '#2e8b57']
avg_colors = ['steelblue', 'orchid', 'yellowgreen']

for vals, col in zip([peak_z, peak_c, peak_a], peak_colors):
    ax1.plot(hours(peak_t), vals, ls='none', marker='+', ms=3.5, mew=0.9, color=col)
for vals, col in zip([avg_z, avg_c, avg_a], avg_colors):
    ax1.plot(hours(avg_t), vals, color=col, lw=1.2)

ax1.set_xlim(0, 23.98)
style_axes(ax1, ':00')

handles = [Line2D([], [], ls='none', marker='o', ms=3.5, color=c) for c in peak_colors]
handles += [Line2D([], [], color=c, lw=3) for c in avg_colors]
labels = ['peak dB(Z)', 'peak dB(C)', 'peak dB(A)', 'avg dB(Z)', 'avg dB(C)', 'avg dB(A)']
ax1.legend(handles, labels, loc='lower right', ncol=2, fontsize=7,
           facecolor=BG, edgecolor='burlywood', framealpha=0.9)

# ---- bottom: 5 min average with envelope
ax2 = fig.add_axes([0.0242, 0.0425, 0.952, 0.4208])
ax2.set_title('average noise level (5 min with 15s min/max dB envelope)', loc='left',
              fontsize=8, fontweight='bold')

ax2.fill_between(hours(env_t), env_lo, env_hi, color='salmon', alpha=0.22, lw=0)
ax2.vlines(hours(spike_t), 63, spike_v, color='salmon', alpha=0.3, lw=1.1)
ax2.plot(hours(lvl_t), lvl_z, color='crimson', lw=1.3, label='dB(Z)')
ax2.plot(hours(lvl_t), lvl_c, color='darkorange', lw=1.3, label='dB(C)')
ax2.plot(hours(lvl_t), lvl_a, color='gold', lw=1.3, label='dB(A)')

ax2.set_xlim(0, 24)
style_axes(ax2, ':00:00')

leg2 = ax2.legend(loc='lower right', fontsize=7, facecolor=BG, edgecolor='burlywood', framealpha=0.9)
for line in leg2.get_lines():
    line.set_linewidth(3)

fig.savefig('out.png', dpi=100)
